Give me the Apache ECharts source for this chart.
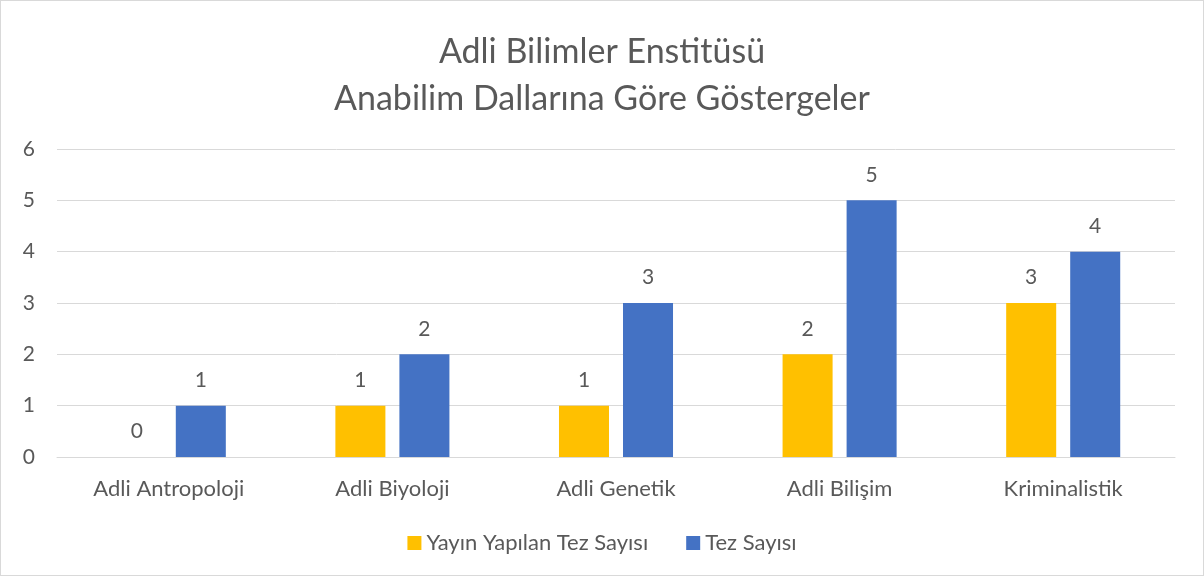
<!DOCTYPE html>
<html>
<head>
<meta charset="utf-8">
<script src="https://cdn.jsdelivr.net/npm/echarts@6/dist/echarts.min.js"></script>
<style>
	html, body { margin: 0; padding: 0; background: #fff; }
	#chart { width: 1202px; height: 574px; border: 1px solid #d9d9d9; }
</style>
</head>
<body>
<div id="chart"></div>
<script>
// kategoriler ve degerler
var categories = ['Adli Antropoloji', 'Adli Biyoloji', 'Adli Genetik', 'Adli Bilişim', 'Kriminalistik'];
var yayinValues = [0, 1, 1, 2, 3];
var tezValues = [1, 2, 3, 5, 4];
var seriesNames = ['Yayın Yapılan Tez Sayısı', 'Tez Sayısı'];

var fontName = 'Lato, "Open Sans", sans-serif';
var textColor = '#595959';

var chart = echarts.init(document.getElementById('chart'));

var labelStyle = {
	show: true,
	position: 'top',
	distance: 15,
	color: textColor,
	fontSize: 21,
	fontFamily: fontName
};

var option = {
	animation: false,
	title: {
		text: 'Adli Bilimler Enstitüsü\nAnabilim Dallarına Göre Göstergeler',
		left: 'center',
		top: 23,
		textStyle: {
			color: textColor,
			fontSize: 34,
			fontWeight: 'normal',
			fontFamily: fontName,
			lineHeight: 47
		}
	},
	legend: {
		bottom: 16,
		left: 'center',
		itemWidth: 14,
		itemHeight: 14,
		itemGap: 38,
		itemTextGap: 7,
		icon: 'rect',
		textStyle: {
			color: textColor,
			fontSize: 22,
			fontFamily: fontName
		},
		data: seriesNames
	},
	grid: {
		left: 56,
		right: 28,
		top: 148,
		bottom: 118
	},
	xAxis: {
		type: 'category',
		data: categories,
		axisTick: { show: false },
		axisLine: { lineStyle: { color: '#d9d9d9', width: 1 } },
		axisLabel: {
			color: textColor,
			fontSize: 22,
			fontFamily: fontName,
			margin: 21
		}
	},
	yAxis: {
		type: 'value',
		min: 0,
		max: 6,
		interval: 1,
		axisLine: { show: false },
		axisTick: { show: false },
		splitLine: { lineStyle: { color: '#d9d9d9', width: 1 } },
		axisLabel: {
			color: textColor,
			fontSize: 21,
			fontFamily: fontName,
			margin: 22
		}
	},
	series: [
		{
			name: seriesNames[0],
			type: 'bar',
			data: yayinValues,
			barGap: '28%',
			barCategoryGap: '49%',
			itemStyle: { color: '#ffc000' },
			label: labelStyle
		},
		{
			name: seriesNames[1],
			type: 'bar',
			data: tezValues,
			itemStyle: { color: '#4472c4' },
			label: labelStyle
		}
	]
};

chart.setOption(option);
</script>
</body>
</html>
